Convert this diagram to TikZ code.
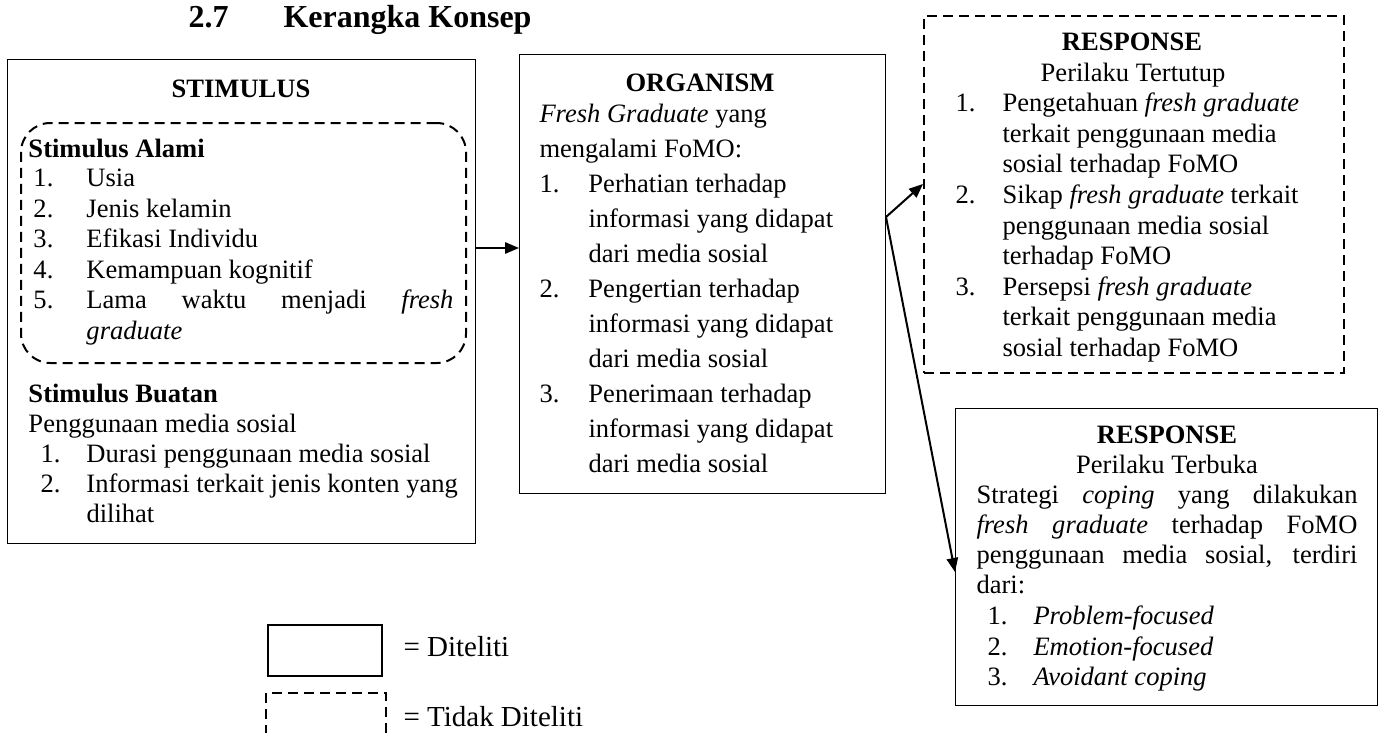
\documentclass[tikz,border=0pt]{standalone}
\usepackage{fontspec}
\setmainfont{Liberation Serif}
\usetikzlibrary{arrows.meta}

\newcommand{\nlab}[2]{\makebox[#1][l]{#2}}

\tikzset{every picture/.style={line width=0.75pt}}
\tikzset{
  box/.style={draw, inner sep=0pt, anchor=north west},
  dashbox/.style={box, line width=1.5pt, dash pattern=on 7.5pt off 4.5pt},
  conn/.style={line width=1.5pt, -{Triangle[length=10.5pt,width=8.5pt]}},
  txt/.style={inner sep=0pt, anchor=base west, align=left, font=\fontsize{19.9pt}{#1}\selectfont},
  txt/.default=22.9pt,
  head/.style={inner sep=0pt, anchor=base, font=\fontsize{19.9pt}{22.9pt}\selectfont\bfseries},
  sub/.style={inner sep=0pt, anchor=base, font=\fontsize{19.9pt}{22.9pt}\selectfont},
  legtxt/.style={inner sep=0pt, anchor=base west, font=\fontsize{21.75pt}{26pt}\selectfont},
  titletxt/.style={inner sep=0pt, anchor=base west, font=\fontsize{24pt}{28pt}\selectfont\bfseries},
}

\begin{document}
\begin{tikzpicture}[x=0.75pt,y=0.75pt,yscale=-1,xscale=1]
	\useasboundingbox (0,0) rectangle (1381,732);

	% Title
	\node [titletxt] (secNum) at (188,27) {2.7};
	\node [titletxt] (secTitle) at (283,27) {Kerangka Konsep};

	%Shape: Rectangle (stimulus)
	\node [box, minimum width=468*0.75pt, minimum height=484*0.75pt] (stimBox) at (7,59) {};
	%Shape: Rounded Rectangle (stimulus alami, dashed)
	\node [dashbox, rounded corners=22pt, minimum width=445*0.75pt, minimum height=240*0.75pt] (alamiBox) at (20,122) {};
	%Shape: Rectangle (organism)
	\node [box, minimum width=366*0.75pt, minimum height=439*0.75pt] (orgBox) at (519,54) {};
	%Shape: Rectangle (response tertutup, dashed)
	\node [dashbox, minimum width=420*0.75pt, minimum height=357*0.75pt] (respTutup) at (923,15) {};
	%Shape: Rectangle (response terbuka)
	\node [box, minimum width=422*0.75pt, minimum height=297*0.75pt] (respBuka) at (955,408) {};
	%Shape: Rectangle (legend)
	\node [box, line width=1.5pt, minimum width=114*0.75pt, minimum height=51*0.75pt] (legSolid) at (267,624) {};
	\node [dashbox, minimum width=120*0.75pt, minimum height=80*0.75pt] (legDash) at (265,692) {};

	%Straight Lines
	\draw [conn] (stimBox.east |- 0,248) -- (orgBox.west |- 0,248);
	\coordinate (split) at (orgBox.east |- 0,217);
	\draw [conn] (split) -- (respTutup.west |- 0,184);
	\draw [conn] (split) -- (respBuka.west |- 0,572);

	% Text Node
	\node [head] (stimHead) at (241,97) {STIMULUS};
	% Text Node
	\node [txt] (alamiHead) at (28,157) {\textbf{Stimulus Alami}};
	% Text Node
	\node [txt] (alamiList) at (33,339.5) {\nlab{39.75pt}{1.}Usia\\
		\nlab{39.75pt}{2.}Jenis kelamin\\
		\nlab{39.75pt}{3.}Efikasi Individu\\
		\nlab{39.75pt}{4.}Kemampuan kognitif\\
		\nlab{39.75pt}{5.}\makebox[275.25pt][s]{Lama waktu menjadi \textit{fresh}}\\
		\hspace*{39.75pt}\textit{graduate}};
	% Text Node
	\node [txt=22.5pt] (buatanHead) at (28,432) {\textbf{Stimulus Buatan}\\Penggunaan media sosial};
	% Text Node
	\node [txt=22.5pt] (buatanList) at (40,522) {\nlab{34.5pt}{1.}Durasi penggunaan media sosial\\
		\nlab{34.5pt}{2.}Informasi terkait jenis konten yang\\
		\hspace*{34.5pt}dilihat};

	% Text Node
	\node [head] (orgHead) at (700,91) {ORGANISM};
	% Text Node
	\node [txt=26.25pt] (orgList) at (539,472) {\textit{Fresh Graduate} yang\\
		mengalami FoMO:\\
		\nlab{36.75pt}{1.}Perhatian terhadap\\
		\hspace*{36.75pt}informasi yang didapat\\
		\hspace*{36.75pt}dari media sosial\\
		\nlab{36.75pt}{2.}Pengertian terhadap\\
		\hspace*{36.75pt}informasi yang didapat\\
		\hspace*{36.75pt}dari media sosial\\
		\nlab{36.75pt}{3.}Penerimaan terhadap\\
		\hspace*{36.75pt}informasi yang didapat\\
		\hspace*{36.75pt}dari media sosial};

	% Text Node
	\node [head] (tutupHead) at (1132,50) {RESPONSE};
	% Text Node
	\node [sub] (tutupSub) at (1133,81) {Perilaku Tertutup};
	% Text Node
	\node [txt=22.95pt] (tutupList) at (955,356.4) {\nlab{35.25pt}{1.}Pengetahuan \textit{fresh graduate}\\
		\hspace*{35.25pt}terkait penggunaan media\\
		\hspace*{35.25pt}sosial terhadap FoMO\\
		\nlab{35.25pt}{2.}Sikap \textit{fresh graduate} terkait\\
		\hspace*{35.25pt}penggunaan media sosial\\
		\hspace*{35.25pt}terhadap FoMO\\
		\nlab{35.25pt}{3.}Persepsi \textit{fresh graduate}\\
		\hspace*{35.25pt}terkait penggunaan media\\
		\hspace*{35.25pt}sosial terhadap FoMO};

	% Text Node
	\node [head] (bukaHead) at (1167,443) {RESPONSE};
	% Text Node
	\node [sub] (bukaSub) at (1167,473) {Perilaku Terbuka};
	% Text Node
	\node [txt=22.7pt] (bukaPara) at (976,593.8) {\makebox[285.75pt][s]{Strategi \textit{coping} yang dilakukan}\\
		\makebox[285.75pt][s]{\textit{fresh graduate} terhadap FoMO}\\
		\makebox[285.75pt][s]{penggunaan media sosial, terdiri}\\
		dari:};
	% Text Node
	\node [txt=22.7pt] (bukaList) at (987,685.5) {\nlab{34.5pt}{1.}\textit{Problem-focused}\\
		\nlab{34.5pt}{2.}\textit{Emotion-focused}\\
		\nlab{34.5pt}{3.}\textit{Avoidant coping}};

	% Text Node
	\node [legtxt] (legSolidTxt) at (403,656) {= Diteliti};
	% Text Node
	\node [legtxt] (legDashTxt) at (403,726) {= Tidak Diteliti};

\end{tikzpicture}
\end{document}
